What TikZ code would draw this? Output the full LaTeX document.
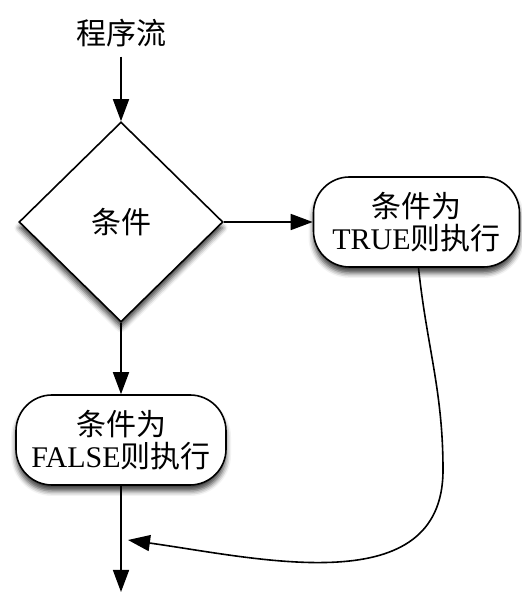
\documentclass[tikz,border=0pt]{standalone}
\usepackage{fontspec}
\setmainfont{Liberation Serif}
\newfontfamily\cjk{Noto Sans CJK SC}
\usetikzlibrary{shapes.geometric, arrows.meta, shadows.blur}

\begin{document}
\begin{tikzpicture}[x=1pt, y=1pt, >={Triangle[length=22pt, width=16pt]},
		line width=1.6pt,
		txt/.style={font=\fontsize{30pt}{32pt}\selectfont, align=center},
		shade/.style={blur shadow={shadow xshift=0pt, shadow yshift=-6pt, shadow blur radius=5pt, shadow opacity=75}},
		decision/.style={txt, draw, diamond, aspect=1.02, minimum width=204pt, minimum height=200pt, inner sep=0pt, fill=white, shade},
		action/.style={txt, draw, rounded corners=36pt, minimum height=90pt, inner sep=2pt, fill=white, shade}]
	\useasboundingbox (0,0) rectangle (521,593);
	% nodes
	\node[txt, inner sep=9pt] (start) at (121,560) {\cjk 程序流};
	\node[decision] (test) at (121,371) {\cjk 条件};
	\node[action, minimum width=206pt] (iftrue) at (416.5,371) {{\cjk 条件为}\\TRUE{\cjk 则执行}};
	\node[action, minimum width=210pt] (iffalse) at (121,153) {{\cjk 条件为}\\FALSE{\cjk 则执行}};
	\coordinate (bend) at (443,123);
	\coordinate (merge) at (128,53);
	\coordinate (finish) at (121,1);
	% connectors
	\draw[->] (start) -- (test);
	\draw[->] (test.east) -- (iftrue.west);
	\draw[->] (test.south) -- (iffalse.north);
	\draw[->] ([xshift=2pt]iftrue.south) to[out=-84, in=90] (bend) to[out=-90, in=-8, looseness=1.05] (merge);
	\draw[->] (iffalse.south) -- (finish);
\end{tikzpicture}
\end{document}
